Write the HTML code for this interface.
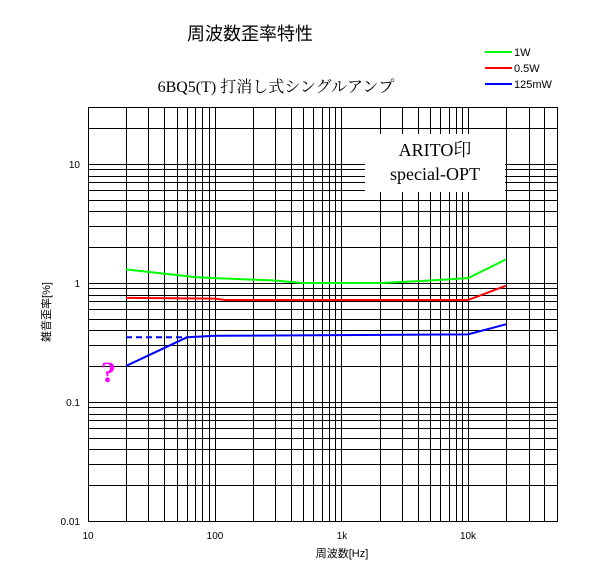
<!DOCTYPE html><html><head><meta charset="utf-8"><style>body{margin:0;background:#fff}svg{display:block}</style></head><body>
<svg width="600" height="570" xmlns="http://www.w3.org/2000/svg" font-family="Liberation Sans, Noto Sans CJK JP, sans-serif">
<rect width="600" height="570" fill="#fff"/>
<g stroke="#000" stroke-width="1" shape-rendering="crispEdges">
<path d="M88.5 107V521M126.5 107V521M148.5 107V521M164.5 107V521M177.5 107V521M187.5 107V521M195.5 107V521M202.5 107V521M209.5 107V521
M215.5 107V521M253.5 107V521M275.5 107V521M291.5 107V521M303.5 107V521M313.5 107V521M322.5 107V521M329.5 107V521M335.5 107V521
M341.5 107V521M380.5 107V521M402.5 107V521M418.5 107V521M430.5 107V521M440.5 107V521M449.5 107V521M456.5 107V521M462.5 107V521
M468.5 107V521M506.5 107V521M529.5 107V521M544.5 107V521M557.5 107V521"/>
<path d="M88 521.5H558M88 485.5H558M88 464.5H558M88 449.5H558M88 438.5H558M88 428.5H558M88 420.5H558M88 414.5H558M88 407.5H558
M88 402.5H558M88 366.5H558M88 345.5H558M88 330.5H558M88 319.5H558M88 309.5H558M88 301.5H558M88 295.5H558M88 288.5H558
M88 283.5H558M88 247.5H558M88 226.5H558M88 211.5H558M88 200.5H558M88 190.5H558M88 182.5H558M88 176.5H558M88 169.5H558
M88 164.5H558M88 128.5H558M88 107.5H558"/>
</g>
<rect x="365" y="134" width="140" height="58" fill="#fff"/>
<g fill="none" stroke-width="2">
<polyline stroke="#0f0" points="126,269.4 164,273.6 195,277.1 215,278.1 275,280.5 303,283 380,283 430,280.5 468,278.1 506,259.4"/>
<polyline stroke="#f00" points="126,297.9 215,298.6 225,300 468,300 506,285.7"/>
<polyline stroke="#00f" points="126,366 187,337.3 215,335.8 468,334.4 506,324.3"/>
<polyline stroke="#00f" stroke-dasharray="6,4" points="126,337.3 187,337.3"/>
</g>
<text x="250" y="40" font-size="18" text-anchor="middle">周波数歪率特性</text>
<text x="276" y="92" font-size="16" text-anchor="middle" font-family="Liberation Serif, Noto Serif CJK SC, serif">6BQ5(T)  打消し式シングルアンプ</text>
<text x="435" y="156" font-size="18" text-anchor="middle" font-family="Liberation Serif, Noto Serif CJK SC, serif">ARITO印</text>
<text x="435" y="180" font-size="18" text-anchor="middle" font-family="Liberation Serif, Noto Serif CJK SC, serif">special-OPT</text>
<g stroke-width="2"><line x1="485" y1="52" x2="512" y2="52" stroke="#0f0"/><line x1="485" y1="68" x2="512" y2="68" stroke="#f00"/><line x1="485" y1="84" x2="512" y2="84" stroke="#00f"/></g>
<g font-size="11"><text x="514" y="56">1W</text><text x="514" y="72">0.5W</text><text x="514" y="88">125mW</text></g>
<g font-size="10" text-anchor="end"><text x="80" y="168">10</text><text x="80" y="287">1</text><text x="80" y="406">0.1</text><text x="80" y="525">0.01</text></g>
<g font-size="10" text-anchor="middle"><text x="88" y="539">10</text><text x="215" y="539">100</text><text x="342" y="539">1k</text><text x="468" y="539">10k</text></g>
<text x="342" y="557" font-size="11" text-anchor="middle">周波数[Hz]</text>
<text transform="translate(50,312) rotate(-90)" font-size="11" text-anchor="middle">雑音歪率[%]</text>
<text x="101" y="382" font-size="30" font-weight="bold" fill="#f0f" font-family="Liberation Serif, serif">?</text>
</svg></body></html>
